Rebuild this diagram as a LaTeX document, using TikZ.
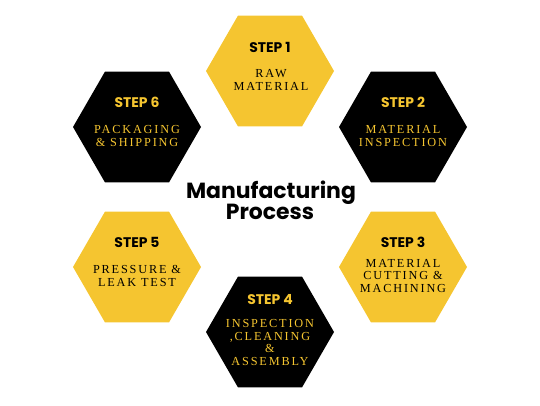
\documentclass[tikz,border=0pt]{standalone}
\usepackage{fontspec}
\setmainfont{Liberation Serif}
\newfontfamily\stepfont{Poppins}
\newfontfamily\descfont[LetterSpace=15]{Liberation Serif}
\newfontfamily\titlefont{Poppins}
\usetikzlibrary{shapes.geometric}
\definecolor{hexyellow}{RGB}{245,197,48}
\begin{document}
\begin{tikzpicture}[x=1bp,y=-1bp,
  hexbox/.style={regular polygon, regular polygon sides=6, minimum size=128bp, inner sep=0pt, outer sep=0pt, draw=none},
  yhex/.style={hexbox, fill=hexyellow},
  bhex/.style={hexbox, fill=black},
  steplabel/.style={font=\stepfont\bfseries\fontsize{14}{14}\selectfont, inner sep=0pt},
  desc/.style={font=\descfont\fontsize{12.3}{13}\selectfont, align=center, inner sep=0pt},
  ontext/.style={text=black},
  offtext/.style={text=hexyellow},
  titletext/.style={font=\titlefont\bfseries\fontsize{22}{19}\selectfont, inner sep=0pt, anchor=base}
]
\useasboundingbox (0,0) rectangle (540,405);

\node[yhex] (h1) at (270,71) {};
\node[bhex] (h2) at (403,127) {};
\node[yhex] (h3) at (403,267) {};
\node[bhex] (h4) at (270,332) {};
\node[yhex] (h5) at (137,267) {};
\node[bhex] (h6) at (137,127) {};

\node[steplabel, ontext] (l1) at (270,47) {STEP 1};
\node[desc, ontext] (d1) at (271,80) {RAW\\MATERIAL};

\node[steplabel, offtext] (l2) at (403,102) {STEP 2};
\node[desc, offtext] (d2) at (403,136) {MATERIAL\\INSPECTION};

\node[steplabel, ontext] (l3) at (403,242) {STEP 3};
\node[desc, ontext] (d3) at (403,276) {MATERIAL\\CUTTING \&\\MACHINING};

\node[steplabel, offtext] (l4) at (270,300) {STEP 4};
\node[desc, offtext] (d4) at (270,342.5) {INSPECTION\\,CLEANING\\\&\\ASSEMBLY};

\node[steplabel, ontext] (l5) at (137,242) {STEP 5};
\node[desc, ontext] (d5) at (137,275.5) {PRESSURE \&\\LEAK TEST};

\node[steplabel, offtext] (l6) at (137,102) {STEP 6};
\node[desc, offtext] (d6) at (137,136) {PACKAGING\\\& SHIPPING};

\node[titletext] (t1) at (271,198) {Manufacturing};
\node[titletext] (t2) at (270,219) {Process};
\end{tikzpicture}
\end{document}
